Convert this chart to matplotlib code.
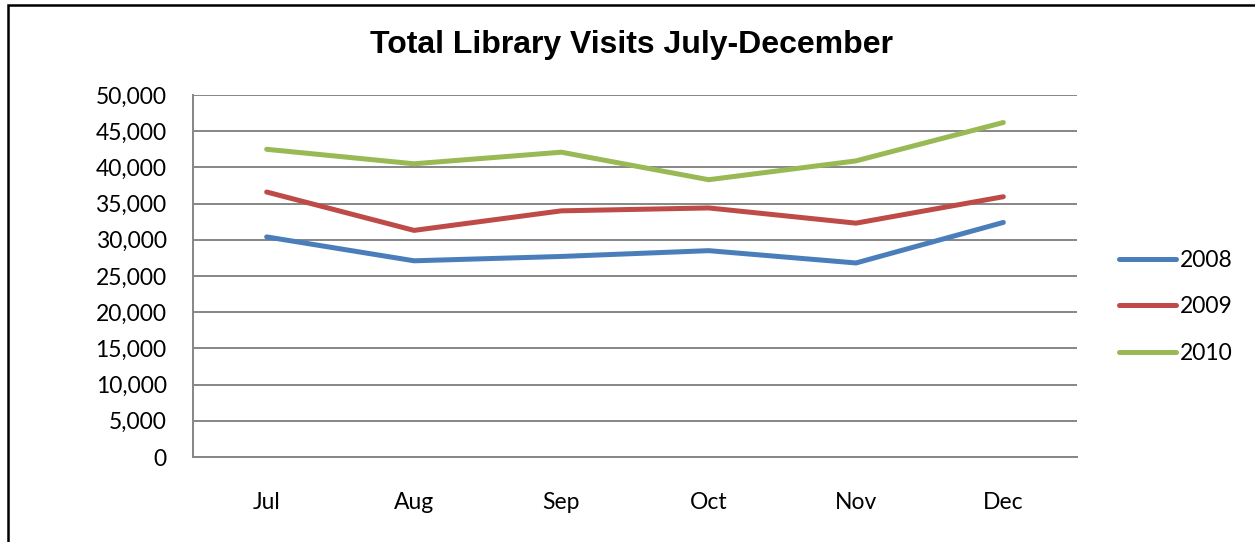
import matplotlib.pyplot as plt
from matplotlib.patches import Rectangle
from matplotlib.ticker import FuncFormatter

months = ['Jul', 'Aug', 'Sep', 'Oct', 'Nov', 'Dec']
visits_2008 = [30400, 27100, 27700, 28500, 26800, 32400]
visits_2009 = [36600, 31300, 34000, 34400, 32300, 35950]
visits_2010 = [42500, 40500, 42100, 38300, 40900, 46200]
series_names = ['2008', '2009', '2010']
series_colors = ['#4A7EBB', '#BE4B48', '#98B954']

fig = plt.figure(figsize=(12.55, 5.42), dpi=100)
ax = fig.add_axes([193 / 1255, 1 - 457 / 542, (1077 - 193) / 1255, (457 - 95) / 542])

x = range(len(months))
for vals, name, col in zip([visits_2008, visits_2009, visits_2010], series_names, series_colors):
    ax.plot(x, vals, color=col, lw=3.6, label=name, solid_capstyle='round', solid_joinstyle='round')

ax.set_xlim(-0.5, len(months) - 0.5)
ax.set_ylim(0, 50000)
ax.set_yticks(range(0, 50001, 5000))
ax.yaxis.set_major_formatter(FuncFormatter(lambda v, p: f'{int(v):,}'))
ax.set_xticks(list(x))
ax.set_xticklabels(months)
ax.grid(axis='y', color='#868686', lw=1.4)
ax.set_axisbelow(True)
for s in ['top', 'right']:
    ax.spines[s].set_visible(False)
for s in ['left', 'bottom']:
    ax.spines[s].set_color('#868686')
    ax.spines[s].set_linewidth(1.4)
ax.tick_params(length=0, labelsize=16.5, pad=19)
ax.tick_params(axis='x', pad=25)
for lab in ax.get_xticklabels() + ax.get_yticklabels():
    lab.set_family('Lato')

fig.suptitle('Total Library Visits July-December', x=632 / 1255, y=1 - 45 / 542,
             va='center', fontsize=23, fontweight='bold', family='Liberation Sans')

leg = ax.legend(loc='center left', bbox_to_anchor=(1.024, 0.415), frameon=False,
                prop={'family': 'Lato', 'size': 16.5}, handlelength=2.5, handletextpad=0.15,
                labelspacing=1.12)

# border of the chart area (only left/top visible in the picture)
fig.patches.append(Rectangle((8 / 1255, -0.05), 1.1, 1 - 5 / 542 + 0.05, transform=fig.transFigure,
                             fill=False, edgecolor='black', lw=1.8))

fig.savefig('out.png', dpi=100)
